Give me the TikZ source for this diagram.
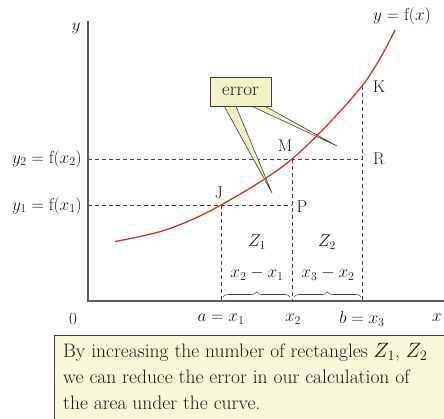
\documentclass[tikz,border=0pt]{standalone}
\usetikzlibrary{decorations.pathreplacing}
\definecolor{curvered}{HTML}{D0342C}
\definecolor{axisgray}{HTML}{5A5A5A}
\definecolor{dashgray}{HTML}{444444}
\definecolor{callfill}{HTML}{F3F1C6}
\definecolor{notefill}{HTML}{FAF8DA}
\begin{document}
\begin{tikzpicture}[x=1pt,y=-1pt,
  lbl/.style={font=\fontsize{17}{20}\selectfont, inner sep=0pt, text=black!90},
  guide/.style={dashed, dash pattern=on 4pt off 3pt, draw=dashgray, line width=0.6pt},
  axisline/.style={draw=axisgray, line width=1.1pt},
  wedge/.style={fill=callfill, draw=black!75, line width=0.6pt, line join=miter},
  bracestyle/.style={decorate, decoration={brace, amplitude=5pt}, draw=dashgray, line width=0.6pt}]
\useasboundingbox (0,0) rectangle (444,418);
% axes
\coordinate (O) at (88,301);
\coordinate (Ytop) at (88,21);
\coordinate (Xend) at (446,301);
\draw[axisline] (Ytop) -- (O) -- (Xend);
% key points
\coordinate (J) at (221,205);
\coordinate (M) at (292,159);
\coordinate (K) at (362,86);
\coordinate (P) at (292,205);
\coordinate (R) at (362,159);
\coordinate (Y1) at (88,205);
\coordinate (Y2) at (88,159);
\coordinate (X1) at (221,301);
\coordinate (X2) at (292,301);
\coordinate (X3) at (362,301);
% dashed guides
\draw[guide] (Y1) -- (P);
\draw[guide] (Y2) -- (R);
\draw[guide] (J) -- (X1);
\draw[guide] (M) -- (X2);
\draw[guide] (K) -- (X3);
% braces
\coordinate (B1a) at (223,297);
\coordinate (B1b) at (290,297);
\coordinate (B2a) at (294,297);
\coordinate (B2b) at (361,297);
\draw[bracestyle] (B1a) -- (B1b);
\draw[bracestyle] (B2a) -- (B2b);
% callout wedges
\coordinate (T1) at (272,193);
\coordinate (T2) at (337,146);
\draw[wedge] (223,104) -- (T1) -- (235,104) -- cycle;
\draw[wedge] (247,104) -- (T2) -- (261,104) -- cycle;
% curve
\draw[curvered, line width=1.3pt] plot[smooth, tension=0.55] coordinates {(115,241.5) (167,229.5) (221,205) (292,159) (362,86) (395,30)};
% callout box
\node[draw=black!75, fill=callfill, line width=0.6pt, minimum width=61pt, minimum height=29pt, inner sep=0pt,
      font=\fontsize{19}{22}\selectfont, text=black!90] (err) at (240.5,91.5) {error};
% labels
\node[lbl] (ylab) at (76,28) {$y$};
\node[lbl] (curvelab) at (402,16) {$y=\mathrm{f}(x)$};
\node[lbl, anchor=east] (y2lab) at (82,159) {$y_2=\mathrm{f}(x_2)$};
\node[lbl, anchor=east] (y1lab) at (82,206) {$y_1=\mathrm{f}(x_1)$};
\node[lbl] (Jlab) at (219,193) {J};
\node[lbl] (Mlab) at (285,146) {M};
\node[lbl] (Klab) at (379,87) {K};
\node[lbl] (Rlab) at (379,159) {R};
\node[lbl] (Plab) at (302,207) {P};
\node[lbl] (Z1lab) at (257,242) {$Z_1$};
\node[lbl] (Z2lab) at (327,242) {$Z_2$};
\node[lbl] (d1lab) at (257,274) {$x_2-x_1$};
\node[lbl] (d2lab) at (328,274) {$x_3-x_2$};
\node[lbl] (zerolab) at (73,319) {0};
\node[lbl] (x1lab) at (221,319) {$a=x_1$};
\node[lbl] (x2lab) at (293,319) {$x_2$};
\node[lbl] (x3lab) at (362,319) {$b=x_3$};
\node[lbl] (xlab) at (437,318) {$x$};
% note box
\draw[draw=black!75, fill=notefill, line width=0.6pt] (54,335) rectangle (450,425);
\node[anchor=north west, align=left, inner sep=0pt, text=black!90,
      font=\fontsize{19.5}{26}\selectfont] (note) at (63,343)
  {By increasing the number of rectangles $Z_1$, $Z_2$\\
   we can reduce the error in our calculation of\\
   the area under the curve.};
\end{tikzpicture}
\end{document}
